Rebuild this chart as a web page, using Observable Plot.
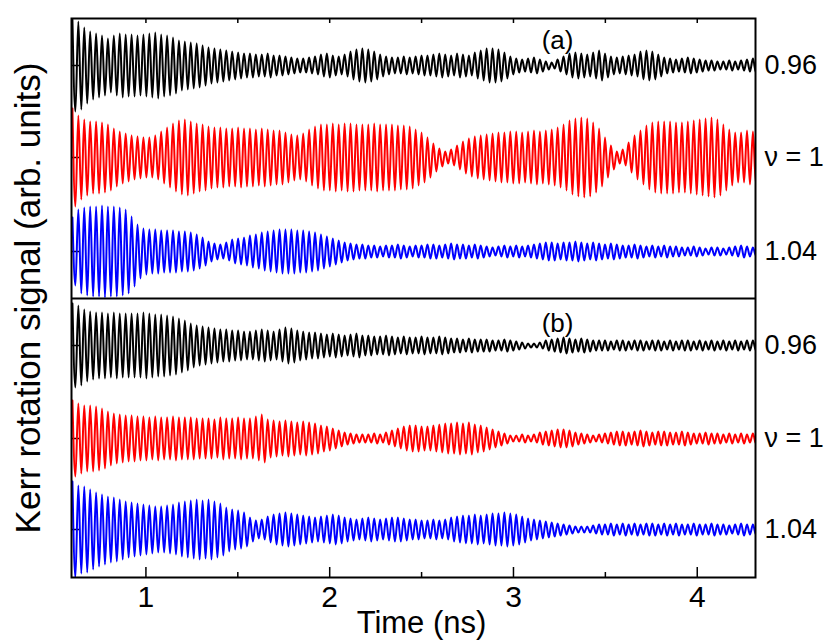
<!DOCTYPE html>
<html><head><meta charset="utf-8">
<script src="https://cdn.jsdelivr.net/npm/d3@7"></script>
<script src="https://cdn.jsdelivr.net/npm/@observablehq/plot@0.6"></script>
<style>body{margin:0;background:#fff} svg{display:block}</style>
</head><body><div id="chart"></div>
<script>
// ---- data ----
const traceNames = ["0.96", "ν = 1", "1.04"];
const panelNames = ["(a)", "(b)"];
const xTicks = [1, 2, 3, 4];
const xMinorTicks = [1.5, 2.5, 3.5];
const yLabel = "Kerr rotation signal (arb. units)";
const xLabel = "Time (ns)";
const period = 0.0322;   // precession period, ns
const tStart = 0.6;      // first peak, ns
// peak amplitude of each precession cycle (arb. units)
const ampA096 = [46,44,38,34,32,30,27,30,32,31, 31,30,31,32,33,31,30,28,25,24, 23,22,20,18,17,16,15,14,13,12,
  12,11,11,12,10,10,9,8,7,7, 8,9,11,12,10,9,11,14,16,17, 16,14,11,9,8,8,9,8,9,10,
  10,11,12,11,10,12,11,10,13,15, 17,17,16,13,9,7,6,7,8,6, 4,3,6,9,12,13,12,11,13,15,
  12,9,8,9,10,11,14,15,14,11, 8,7,6,7,8,7,6,5,5,4, 4,5,4,5,6,7,6];
const ampA100 = [49,42,38,36,36,35,33,29,26,24, 22,21,20,20,22,26,30,34,37,38, 36,34,33,31,30,30,29,29,30,29,
  29,28,29,28,27,27,25,23,22,24, 28,31,33,33,34,33,34,34,33,33, 33,34,33,33,33,32,32,31,28,25,
  20,14,9,6,8,12,16,19,21,22, 23,24,25,25,26,26,25,26,27,26, 27,28,30,33,37,39,40,39,35,29,
  20,12,6,8,15,22,27,32,35,36, 36,36,35,35,36,37,38,39,40,38, 33,28,25,25,27,26,25];
const ampA104 = [34,42,44,45,45,46,45,45,44,42, 35,27,23,22,22,21,21,21,20,20, 19,17,14,10,8,7,9,12,13,14,
  16,17,19,20,21,22,22,22,21,21, 20,19,17,15,13,11,9,8,7,7, 6,6,5,6,6,7,6,5,6,6,
  7,7,6,7,8,7,7,6,7,6, 5,4,5,6,5,6,5,6,7,8, 9,9,8,9,9,10,9,8,9,8,
  7,8,7,6,6,7,6,5,6,5, 6,5,5,4,4,5,4,3,4,4, 3,4,5,6,5,4,4];
const ampB096 = [42,40,36,34,33,33,32,33,32,32, 32,32,33,32,31,31,30,29,27,25, 22,20,19,18,17,16,16,15,15,14,
  14,15,16,15,14,16,18,17,15,14, 13,13,12,11,12,11,10,11,12,10, 10,9,9,10,9,8,9,8,8,9,
  8,8,9,8,7,7,6,7,6,6, 6,5,5,6,5,4,3,2,2,3, 5,6,7,8,7,6,7,6,5,5,
  5,4,5,5,4,5,5,4,5,5, 4,5,4,5,5,4,5,4,5,4, 5,4,5,4,5,5,4];
const ampB100 = [38,35,33,33,32,30,27,25,24,23, 23,22,22,21,22,21,21,22,21,21, 21,20,20,20,19,21,20,20,21,20,
  20,22,24,19,18,17,18,17,16,17, 16,15,13,12,10,8,6,5,4,4, 4,5,4,6,8,10,12,13,13,12,
  12,13,14,15,15,16,15,16,14,13, 11,9,7,5,3,3,4,3,4,6, 7,8,9,9,8,6,5,4,3,4,
  5,6,7,7,6,7,8,7,6,7, 7,6,6,7,6,5,5,6,5,5, 4,5,4,5,4,5,5];
const ampB104 = [48,44,43,40,37,35,33,32,30,28, 27,26,25,24,23,23,24,25,27,28, 29,30,29,30,28,26,22,20,19,17,
  12,9,10,13,15,16,17,16,15,14, 13,12,13,14,15,14,12,11,10,11, 12,11,10,11,12,12,11,10,10,9,
  9,10,9,10,12,13,14,14,15,14, 15,16,16,17,16,15,13,11,10,9, 8,7,6,5,4,3,3,3,4,5,
  5,6,5,6,5,6,5,6,6,5, 6,5,6,5,5,6,5,5,6,5, 5,4,5,6,5,5,4];

// ---- layout (not data) ----
const W = 830, H = 640;
const colors = ["#000000", "#ff0000", "#0000ff"];
const panels = [
  {name: panelNames[0], amps: [ampA096, ampA100, ampA104], offsets: [512, 420, 326], labelY: 537},
  {name: panelNames[1], amps: [ampB096, ampB100, ampB104], offsets: [232, 139, 48], labelY: 254}
];
const separator = 279;
const font = "'Liberation Sans', Arial, Helvetica, sans-serif";
const noText = () => "";

const traces = [];
panels.forEach((p) => p.amps.forEach((a, ti) => {
  const pts = [];
  a.forEach((v, k) => {
    pts.push({t: tStart + k * period, y: p.offsets[ti] + v});
    pts.push({t: tStart + (k + 0.5) * period, y: p.offsets[ti] - v});
  });
  traces.push({pts, color: colors[ti], name: traceNames[ti], off: p.offsets[ti]});
}));

const marks = [
  Plot.axisY(traces.map(d => d.off), {anchor: "left", tickSize: -9, strokeWidth: 1.5, tickFormat: noText, label: null}),
  ...traces.map(tr => Plot.line(tr.pts, {x: "t", y: "y", stroke: tr.color, strokeWidth: 2, curve: "monotone-x", clip: true})),
  Plot.ruleY([separator], {strokeWidth: 2}),
  Plot.frame({strokeWidth: 2}),
  Plot.axisX(xTicks, {anchor: "bottom", tickSize: -10, tickPadding: 18, strokeWidth: 1.5, fontSize: 30, tickFormat: d => String(d), label: null}),
  Plot.axisX(xMinorTicks, {anchor: "bottom", tickSize: -5, strokeWidth: 1.5, tickFormat: noText, label: null}),
  Plot.axisX(xTicks.concat(xMinorTicks), {anchor: "top", tickSize: -4, strokeWidth: 1.5, tickFormat: noText, label: null}),
  Plot.text([xLabel], {frameAnchor: "bottom", lineAnchor: "top", dy: 33, dx: 8, fontSize: 31, fill: "#000"}),
  Plot.text([yLabel], {frameAnchor: "left", rotate: -90, dx: -43, textAnchor: "middle", fontSize: 35, fill: "#000"}),
  Plot.text(traces, {y: "off", text: "name", frameAnchor: "right", dx: 9, textAnchor: "start", fontSize: 27, fill: "#000"}),
  Plot.text(panels, {x: () => 3.24, y: "labelY", text: "name", fontSize: 26, fill: "#000"})
];

const chart = Plot.plot({
  width: W, height: H,
  marginLeft: 71, marginRight: 75, marginTop: 18, marginBottom: 63,
  style: {fontFamily: font, background: "#fff", color: "#000"},
  x: {domain: [0.595, 4.317]},
  y: {domain: [0, 559]},
  marks
});
document.getElementById("chart").append(chart);
</script>
</body></html>
